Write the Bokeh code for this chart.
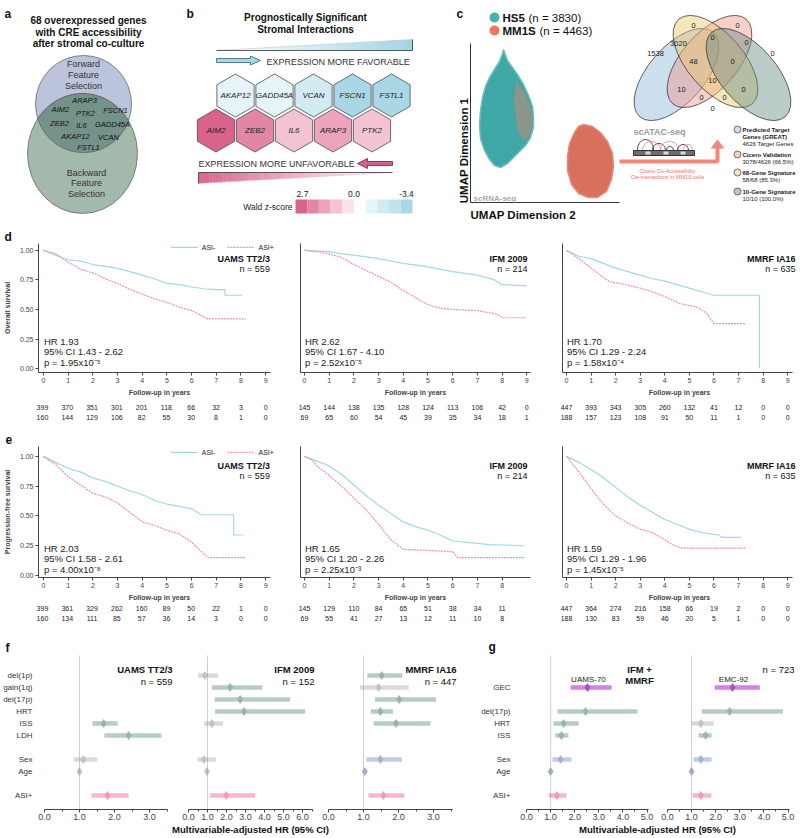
import numpy as np
from bokeh.plotting import figure
from bokeh.models import (Range1d, Label, LabelSet, ColumnDataSource, FixedTicker, Span,
                          NumeralTickFormatter)
from bokeh.layouts import row, column
from bokeh.embed import file_html
from bokeh.resources import INLINE
from bokeh.core.properties import value
from bokeh.transform import linear_cmap

FONT = "Liberation Sans"

# ----------------------------- data -----------------------------
# panel a
venn_title = ["68 overexpressed genes", "with CRE accessibility", "after stromal co-culture"]
venn_genes = ["ARAP3", "AIM2", "PTK2", "FSCN1", "ZEB2", "IL6", "GADD45A", "AKAP12", "VCAN", "FSTL1"]
# panel b
fav_genes = ["AKAP12", "GADD45A", "VCAN", "FSCN1", "FSTL1"]
fav_z = [-1.2, -1.2, -1.8, -2.9, -3.4]
unfav_genes = ["AIM2", "ZEB2", "IL6", "ARAP3", "PTK2"]
unfav_z = [2.7, 2.0, 0.7, 1.3, 0.7]
z_low, z_high = -3.4, 2.7
z_palette = ["#a9d7e5", "#bfe2ed", "#d2eaf2", "#e6f3f8", "#ffffff",
             "#fae1ea", "#f3c3d3", "#eba4bc", "#e385a4", "#d9638d"]
# panel c
umap_groups = ["HS5", "MM1S"]
umap_n = [3830, 4463]
venn4_counts = [1538, 0, 0, 3020, 0, 0, 0, 48, 0, 10, 10, 0, 0, 0, 0]
venn4_sets = ["Predicted Target|Genes (GREAT)", "Cicero Validation", "68-Gene Signature", "10-Gene Signature"]
venn4_sub = ["4626 Target Genes", "3078/4626 (66.5%)", "58/68 (85.3%)", "10/10 (100.0%)"]

# panel d (overall survival) Kaplan-Meier curves
os_uams_neg_t = [0, 0.5, 1, 1.5, 2, 2.5, 3, 3.5, 4, 4.5, 5, 5.5, 6, 6.5, 7, 7.35, 7.35, 8.05]
os_uams_neg_s = [1, 0.96, 0.92, 0.91, 0.88, 0.865, 0.847, 0.82, 0.79, 0.76, 0.72, 0.71, 0.69, 0.675, 0.667, 0.667, 0.62, 0.62]
os_uams_pos_t = [0, 0.5, 1, 1.5, 2, 2.5, 3, 3.5, 4, 4.5, 5, 5.5, 6, 6.3, 6.65, 8.2]
os_uams_pos_s = [1, 0.97, 0.90, 0.84, 0.81, 0.76, 0.72, 0.67, 0.63, 0.59, 0.56, 0.52, 0.49, 0.46, 0.42, 0.42]
os_ifm_neg_t = [0, 1, 1.5, 2, 3, 4, 5, 6, 7, 7.7, 8, 9]
os_ifm_neg_s = [1, 0.99, 0.97, 0.96, 0.93, 0.89, 0.86, 0.82, 0.79, 0.75, 0.71, 0.70]
os_ifm_pos_t = [0, 0.5, 1, 1.5, 2, 2.5, 3, 3.5, 4, 4.5, 5, 5.5, 6, 7, 7.8, 8, 9]
os_ifm_pos_s = [1, 0.99, 0.97, 0.94, 0.88, 0.83, 0.78, 0.73, 0.66, 0.60, 0.54, 0.51, 0.50, 0.49, 0.46, 0.43, 0.43]
os_mmrf_neg_t = [0, 0.5, 1, 1.5, 2, 2.5, 3, 3.5, 4, 4.5, 5, 5.5, 6, 7.85, 7.85]
os_mmrf_neg_s = [1, 0.95, 0.93, 0.89, 0.85, 0.82, 0.79, 0.76, 0.74, 0.71, 0.68, 0.65, 0.62, 0.62, 0.0]
os_mmrf_pos_t = [0, 0.5, 1, 1.5, 1.8, 2.2, 3, 3.5, 4, 4.6, 5.3, 5.7, 6.0, 7.3]
os_mmrf_pos_s = [1, 0.93, 0.85, 0.77, 0.73, 0.72, 0.68, 0.65, 0.61, 0.55, 0.52, 0.47, 0.38, 0.38]
# panel e (progression-free survival)
pfs_uams_neg_t = [0, 0.5, 1, 1.5, 2, 2.5, 3, 3.5, 4, 4.5, 5, 5.5, 6, 6.4, 7.7, 7.7, 8.1]
pfs_uams_neg_s = [1, 0.95, 0.90, 0.87, 0.82, 0.79, 0.75, 0.71, 0.68, 0.63, 0.60, 0.58, 0.56, 0.51, 0.51, 0.34, 0.34]
pfs_uams_pos_t = [0, 0.5, 1, 1.5, 2, 2.5, 3, 3.5, 4, 4.5, 5, 5.5, 6, 6.3, 6.5, 6.7, 8.2]
pfs_uams_pos_s = [1, 0.93, 0.83, 0.76, 0.69, 0.66, 0.61, 0.53, 0.45, 0.42, 0.38, 0.35, 0.28, 0.22, 0.18, 0.15, 0.15]
pfs_ifm_neg_t = [0, 0.5, 1, 1.5, 2, 2.5, 3, 3.5, 4, 4.5, 5, 5.5, 6, 7.5, 8.9]
pfs_ifm_neg_s = [1, 0.96, 0.92, 0.85, 0.76, 0.67, 0.59, 0.52, 0.45, 0.41, 0.38, 0.34, 0.29, 0.26, 0.25]
pfs_ifm_pos_t = [0, 0.3, 0.5, 1, 1.5, 2, 2.5, 3, 3.5, 4, 5, 6, 6.2, 8.9]
pfs_ifm_pos_s = [1, 0.97, 0.92, 0.84, 0.75, 0.65, 0.55, 0.43, 0.30, 0.22, 0.21, 0.20, 0.15, 0.15]
pfs_mmrf_neg_t = [0, 0.5, 1, 1.5, 2, 2.5, 3, 3.5, 4, 4.5, 5, 5.5, 6.2, 6.3, 7.1]
pfs_mmrf_neg_s = [1, 0.95, 0.89, 0.82, 0.74, 0.66, 0.59, 0.53, 0.47, 0.43, 0.39, 0.36, 0.34, 0.32, 0.32]
pfs_mmrf_pos_t = [0, 0.5, 1, 1.5, 2, 2.5, 3, 3.5, 4, 4.3, 4.7, 7.3]
pfs_mmrf_pos_s = [1, 0.87, 0.73, 0.60, 0.50, 0.44, 0.39, 0.36, 0.30, 0.26, 0.23, 0.23]

# numbers at risk
risk_os_uams = ([399, 370, 351, 301, 201, 118, 66, 32, 3, 0], [160, 144, 129, 106, 82, 55, 30, 8, 1, 0])
risk_os_ifm = ([145, 144, 138, 135, 128, 124, 113, 106, 42, 0], [69, 65, 60, 54, 45, 39, 35, 34, 18, 1])
risk_os_mmrf = ([447, 393, 343, 305, 260, 132, 41, 12, 0, 0], [188, 157, 123, 108, 91, 50, 11, 1, 0, 0])
risk_pfs_uams = ([399, 361, 329, 262, 160, 89, 50, 22, 1, 0], [160, 134, 111, 85, 57, 36, 14, 3, 0, 0])
risk_pfs_ifm = ([145, 129, 110, 84, 65, 51, 38, 34, 11], [69, 55, 41, 27, 13, 12, 11, 10, 8])
risk_pfs_mmrf = ([447, 364, 274, 216, 158, 66, 19, 2, 0, 0], [188, 130, 83, 59, 46, 20, 5, 1, 0, 0])

cohorts = ["UAMS TT2/3", "IFM 2009", "MMRF IA16"]
cohort_n = [559, 214, 635]
os_stats = [("1.93", "1.43 - 2.62", "1.95x10\u207b\u2075"), ("2.62", "1.67 - 4.10", "2.52x10\u207b\u2075"),
            ("1.70", "1.29 - 2.24", "1.58x10\u207b\u2074")]
pfs_stats = [("2.03", "1.58 - 2.61", "4.00x10\u207b\u2078"), ("1.65", "1.20 - 2.26", "2.25x10\u207b\u00b3"),
             ("1.59", "1.29 - 1.96", "1.45x10\u207b\u2075")]

# panel f (multivariable HR, 95% CI)
f_rows = ["del(1p)", "gain(1q)", "del(17p)", "HRT", "ISS", "LDH", "Sex", "Age", "ASI+"]
f_uams_var = ["ISS", "LDH", "Sex", "Age", "ASI+"]
f_uams_hr = [1.69, 2.40, 1.11, 1.00, 1.80]
f_uams_lo = [1.37, 1.71, 0.83, 0.98, 1.34]
f_uams_hi = [2.09, 3.34, 1.51, 1.02, 2.40]
f_uams_kind = ["sig", "sig", "ns", "ns", "asi"]
f_ifm_var = ["del(1p)", "gain(1q)", "del(17p)", "HRT", "ISS", "Sex", "Age", "ASI+"]
f_ifm_hr = [0.86, 2.19, 2.72, 2.93, 1.23, 0.81, 0.97, 1.98]
f_ifm_lo = [0.50, 1.23, 1.38, 1.40, 0.82, 0.47, 0.95, 1.14]
f_ifm_hi = [1.56, 3.89, 5.35, 6.14, 1.82, 1.44, 1.00, 3.50]
f_ifm_kind = ["ns", "sig", "sig", "sig", "ns", "ns", "ns", "asi"]
f_mmrf_var = ["del(1p)", "gain(1q)", "del(17p)", "HRT", "ISS", "Sex", "Age", "ASI+"]
f_mmrf_hr = [1.52, 1.43, 2.02, 1.48, 1.93, 1.48, 1.04, 1.57]
f_mmrf_lo = [1.11, 0.90, 1.33, 1.21, 1.29, 1.08, 1.02, 1.14]
f_mmrf_hi = [2.11, 2.29, 3.07, 1.84, 2.91, 2.10, 1.06, 2.17]
f_mmrf_kind = ["sig", "ns", "sig", "sig", "sig", "cov", "cov", "asi"]
f_n = [559, 152, 447]
# panel g
g_rows = ["GEC", "del(17p)", "HRT", "ISS", "Sex", "Age", "ASI+"]
g_uams70_hr = [2.53, 2.45, 1.54, 1.45, 1.41, 1.00, 1.26]
g_uams70_lo = [1.83, 1.29, 1.12, 1.20, 1.08, 0.98, 0.92]
g_uams70_hi = [3.53, 4.60, 2.16, 1.74, 1.87, 1.02, 1.66]
g_uams70_kind = ["gec", "sig", "sig", "sig", "cov", "cov", "asi"]
g_emc92_hr = [2.70, 2.58, 1.38, 1.58, 1.38, 1.00, 1.38]
g_emc92_lo = [1.96, 1.42, 1.00, 1.29, 1.08, 0.98, 1.04]
g_emc92_hi = [3.83, 4.79, 1.92, 1.83, 1.83, 1.02, 1.82]
g_emc92_kind = ["gec", "sig", "ns", "sig", "cov", "cov", "asi"]
g_n = 723
hr_axis_label = "Multivariable-adjusted HR (95% CI)"

# ----------------------------- styles -----------------------------
C_NEG = "#9fd9e6"
C_POS = "#f08fb0"
BAR = {"sig": "#b7ccc2", "ns": "#dadada", "cov": "#c2cde0", "asi": "#f5b9cf", "gec": "#cf86e0"}
DOT = {"sig": "#97b4a7", "ns": "#c2c2c2", "cov": "#a2b3cc", "asi": "#ee9aba", "gec": "#a650c6"}
W = 798


def lab(p, x, y, text, size=9, style="normal", color="#222222", align="left",
        baseline="middle", angle=0.0):
    p.add_layout(Label(x=x, y=y, text=text, text_font=FONT, text_font_size=f"{size}px",
                       text_font_style=style, text_color=color, text_align=align,
                       text_baseline=baseline, angle=angle))


def mix(c1, c2, t):
    return "#%02x%02x%02x" % tuple(int(round(a + (b - a) * t)) for a, b in zip(c1, c2))


def blank(width, height, xr, yr):
    p = figure(width=width, height=height, x_range=Range1d(*xr), y_range=Range1d(*yr),
               x_axis_type=None, y_axis_type=None, output_backend="svg",
               toolbar_location=None, min_border=0)
    p.outline_line_color = None
    return p


# ----------------------------- top row (a, b, c) -----------------------------
top = blank(W, 243, (0, W), (243, 0))

# ---- a
lab(top, 4, 13, "a", 12, "bold", "#111")
for i, s in enumerate(venn_title):
    lab(top, 88, 20 + 11.7 * i, s, 10, "bold", "#111", "center")
c1 = (83.0, 103.5, 48.0, 48.5)
c2 = (82.0, 153.0, 55.0, 60.0)
top.ellipse(x=[c1[0]], y=[c1[1]], width=[2 * c1[2]], height=[2 * c1[3]],
            fill_color="#bcc4dc", line_color="#6a6a6a", line_width=0.8)
top.ellipse(x=[c2[0]], y=[c2[1]], width=[2 * c2[2]], height=[2 * c2[3]],
            fill_color="#a3b9ab", line_color="#6a6a6a", line_width=0.8)
th = np.linspace(0, 2 * np.pi, 721)
p1 = np.c_[c1[0] + c1[2] * np.cos(th), c1[1] + c1[3] * np.sin(th)]
p2 = np.c_[c2[0] + c2[2] * np.cos(th), c2[1] + c2[3] * np.sin(th)]
in2 = ((p1[:, 0] - c2[0]) / c2[2]) ** 2 + ((p1[:, 1] - c2[1]) / c2[3]) ** 2 <= 1
in1 = ((p2[:, 0] - c1[0]) / c1[2]) ** 2 + ((p2[:, 1] - c1[1]) / c1[3]) ** 2 <= 1
lens = np.r_[p1[in2], p2[in1]]
ang = np.arctan2(lens[:, 1] - lens[:, 1].mean(), lens[:, 0] - lens[:, 0].mean())
lens = lens[np.argsort(ang)]
top.patch(lens[:, 0], lens[:, 1], fill_color="#75928a", line_color="#5a5a5a", line_width=0.8)
for i, s in enumerate(["Forward", "Feature", "Selection"]):
    lab(top, 83, 63 + 11 * i, s, 9, color="#333", align="center")
for i, s in enumerate(["Backward", "Feature", "Selection"]):
    lab(top, 86, 172 + 10.5 * i, s, 9, color="#333", align="center")
gene_px = [84, 60, 85, 115, 59, 81, 112, 75, 108, 88]
gene_py = [100, 109, 113, 110, 123, 125, 124, 136, 137, 147]
for g, gx, gy in zip(venn_genes, gene_px, gene_py):
    lab(top, gx, gy, g, 7.5, "italic", "#111", "center")

# ---- b
lab(top, 186, 13, "b", 12, "bold", "#111")
lab(top, 305, 17, "Prognostically Significant", 10, "bold", "#111", "center")
lab(top, 305, 29, "Stromal Interactions", 10, "bold", "#111", "center")
nstr = 70
xs = np.linspace(216, 412, nstr + 1)
xc = (xs[:-1] + xs[1:]) / 2
fr = (xc - 216) / 196
top.quad(left=xs[:-1], right=xs[1:] + 0.3, top=50 - 11 * fr, bottom=np.full(nstr, 50.0),
         fill_color=[mix((255, 255, 255), (163, 212, 227), t) for t in fr], line_color=None)
top.line([216, 412], [50, 39], line_color="#b8c8cf", line_width=0.6)
top.line([216, 412, 412], [50, 50, 39], line_color="#333", line_width=0.8)
top.patch([216, 250, 250, 260, 250, 250, 216], [58, 58, 55.5, 60, 64.5, 62, 62],
          fill_color="#a8d6e6", line_color="#2f5f77", line_width=0.8)
lab(top, 266, 61, "EXPRESSION MORE FAVORABLE", 9, color="#333")
hx_top = 235 + 39 * np.arange(5)
hx_bot = 215.5 + 39 * np.arange(5)
hsrc = ColumnDataSource(dict(x=list(hx_top) + list(hx_bot), y=[95] * 5 + [130] * 5,
                             z=fav_z + unfav_z, g=fav_genes + unfav_genes))
top.scatter(x="x", y="y", source=hsrc, marker="hex", size=43, angle=np.pi / 2,
            fill_color=linear_cmap("z", z_palette, low=z_low, high=z_high),
            line_color="#4a4a4a", line_width=0.8)
for gx, gy, g in zip(hsrc.data["x"], hsrc.data["y"], hsrc.data["g"]):
    lab(top, gx, gy, g, 8, "italic", "#222", "center")
lab(top, 198, 163, "EXPRESSION MORE UNFAVORABLE", 9, color="#333")
top.patch([392, 367, 367, 357, 367, 367, 392], [161, 161, 158, 163, 168, 165, 165],
          fill_color="#d45e8c", line_color="#6e2244", line_width=0.8)
xs2 = np.linspace(198, 392, nstr + 1)
xc2 = (xs2[:-1] + xs2[1:]) / 2
fr2 = (xc2 - 198) / 194
top.quad(left=xs2[:-1], right=xs2[1:] + 0.3, top=np.full(nstr, 172.0), bottom=183 - 11 * fr2,
         fill_color=[mix((216, 100, 142), (255, 255, 255), t) for t in fr2], line_color=None)
top.line([198, 392], [183, 172], line_color="#e9c3d1", line_width=0.6)
top.line([198, 198, 392], [183, 172, 172], line_color="#333", line_width=0.8)
ncb = len(z_palette)
cb_w = (412 - 295) / ncb
top.rect(x=295 + cb_w * (np.arange(ncb) + 0.5), y=206, width=cb_w, height=14,
         fill_color=z_palette[::-1], line_color=None)
lab(top, 302, 193, f"{z_high:.1f}", 8.5, color="#222", align="center")
lab(top, 353.5, 193, "0.0", 8.5, color="#222", align="center")
lab(top, 406, 193, f"{z_low:.1f}", 8.5, color="#222", align="center")
lab(top, 292, 206, "Wald z-score", 8.5, color="#222", align="right")

# ---- c
lab(top, 456, 13, "c", 12, "bold", "#111")
top.scatter(x=[494, 494], y=[17, 30], size=10, fill_color=["#45b1b0", "#ec7563"], line_color=None)
lab(top, 502, 17, umap_groups[0], 11.5, "bold", "#111")
lab(top, 528, 17, f"(n = {umap_n[0]})", 11.5, color="#111")
lab(top, 502, 30, umap_groups[1], 11.5, "bold", "#111")
lab(top, 539, 30, f"(n = {umap_n[1]})", 11.5, color="#111")
teal_x = [503, 507, 512, 517, 523, 528, 532, 533, 533, 530, 525, 519, 513, 507, 500, 494,
          489, 484, 480, 479, 480, 482, 485, 489, 494, 499, 502]
teal_y = [49, 60, 67, 74, 84, 95, 106, 116, 127, 137, 145, 151, 157, 163, 167, 165,
          159, 150, 138, 125, 110, 97, 86, 77, 69, 61, 53]
red_x = [583, 592, 600, 607, 612, 613, 611, 606, 597, 588, 578, 571, 567, 567, 569, 574, 578]
red_y = [124, 126, 132, 141, 153, 166, 179, 191, 197, 197, 193, 184, 170, 156, 143, 132, 126]
speck_x = [516, 524, 530, 532, 530, 524, 517, 513]
speck_y = [80, 92, 106, 120, 134, 141, 130, 100]
top.patch(teal_x, teal_y, fill_color="#3fa7a5", line_color="#6cc0bf", line_width=1.5)
top.patch(speck_x, speck_y, fill_color="#e6806e", fill_alpha=0.45, line_color=None)
top.patch(red_x, red_y, fill_color="#d9705e", line_color="#ec8a78", line_width=1.5)
top.line([470, 470, 619], [43, 202, 202], line_color="#333", line_width=1)
lab(top, 463, 150, "UMAP Dimension 1", 11.5, "bold", "#111", "center", angle=np.pi / 2)
lab(top, 470, 214, "UMAP Dimension 2", 11.5, "bold", "#111")
lab(top, 473, 198, "scRNA-seq", 8, "bold", "#aaaaaa")
top.line([619, 717, 717], [161, 161, 147], line_color="#f4877b", line_width=4)
top.patch([710, 724, 717], [148, 148, 139], fill_color="#f4877b", line_color=None)
lab(top, 659, 131, "scATAC-seq", 9, "bold", "#9a9a9a", "center")
arc_x0 = [637, 642, 652, 660, 666, 677, 683]
arc_x1 = [653, 660, 665, 678, 673, 688, 692]
arc_h = [11, 9, 7, 9, 4, 6, 6]
arc_c = ["#222", "#f07d72", "#222", "#f07d72", "#222", "#222", "#f07d72"]
top.bezier(x0=arc_x0, y0=[150] * 7, x1=arc_x1, y1=[150] * 7, cx0=arc_x0,
           cy0=[150 - 1.33 * h for h in arc_h], cx1=arc_x1, cy1=[150 - 1.33 * h for h in arc_h],
           line_color=arc_c, line_width=0.8)
top.quad(left=[633], right=[694], top=[150], bottom=[155], fill_color="#6e6e6e", line_color="#333")
top.quad(left=[645, 663, 680], right=[650, 668, 685], top=[151] * 3, bottom=[154] * 3,
         fill_color="#d9d9d9", line_color=None)
lab(top, 667, 170, "Cicero Co-Accessibility", 5.5, color="#f07060", align="center")
lab(top, 667, 176, "Cis-interactions in MM1S cells", 5.5, color="#f07060", align="center")
v4_fill = ["#8db7da", "#ef948a", "#e6c76d", "#688c82"]
top.ellipse(x=[676, 709, 715, 748], y=[74, 61, 61, 74], width=112, height=56,
            angle=[0.855, 0.855, -0.855, -0.855], fill_color=v4_fill, fill_alpha=0.45,
            line_color="#3a3a3a", line_width=0.8)
v4_lx = [655, 693, 737, 678, 712, 746, 772, 693, 732, 712, 681, 743, 701, 724, 712]
v4_ly = [53, 25, 25, 43, 37, 42, 53, 61, 61, 80, 89, 89, 97, 97, 108]
for cnt, vx, vy in zip(venn4_counts, v4_lx, v4_ly):
    lab(top, vx, vy, str(cnt), 7.5, color="#222", align="center")
leg_y = [129, 154, 172, 191]
top.scatter(x=[737] * 4, y=leg_y, size=7, fill_color=v4_fill, fill_alpha=0.45,
            line_color="#3a3a3a", line_width=0.7)
for s, sub, ly in zip(venn4_sets, venn4_sub, leg_y):
    parts = s.split("|")
    for j, ps in enumerate(parts):
        lab(top, 742, ly + 7 * j, ps, 6, "bold", "#222")
    lab(top, 742, ly + 7 * len(parts), sub, 6, color="#222")
lab(top, 4, 236, "d", 12, "bold", "#111")


# ----------------------------- KM panels -----------------------------
def km(kind, width, bl, br, x0, x1, bound, neg_t, neg_s, pos_t, pos_s, risk, cohort, n, stats,
       show_y, title_x, xticks, ylabel=None, legend=False):
    if kind == "d":
        height, bb = 155, 24
        y0, y1 = -0.0333, 1.058
        ty, hy, ly = (0.925, 0.842), (0.225, 0.142, 0.05), 1.025
        rtop, rbot, ry = 398, 446, (407, 417)
    else:
        height, bb = 157, 24
        y0, y1 = -0.0165, 1.083
        ty, hy, ly = (0.917, 0.835), (0.231, 0.14, 0.05), 1.033
        rtop, rbot, ry = 603, 655, (608, 618)
    p = figure(width=width, height=height, x_range=Range1d(x0, x1), y_range=Range1d(y0, y1),
               output_backend="svg", toolbar_location=None, min_border_left=bl,
               min_border_right=br, min_border_top=0, min_border_bottom=bb)
    p.grid.visible = False
    p.outline_line_color = None
    xa = p.xaxis[0]
    xa.bounds = (x0, bound)
    xa.ticker = FixedTicker(ticks=xticks)
    xa.axis_label = "Follow-up in years"
    xa.axis_label_text_font = FONT
    xa.axis_label_text_font_style = "bold"
    xa.axis_label_text_font_size = "7px"
    xa.axis_label_standoff = 3
    xa.major_label_text_font = FONT
    xa.major_label_text_font_size = "7px"
    xa.major_label_standoff = 2
    xa.major_tick_out = 3
    xa.major_tick_in = 0
    xa.minor_tick_line_color = None
    xa.axis_line_color = "#444"
    xa.major_tick_line_color = "#444"
    ya = p.yaxis[0]
    ya.axis_line_color = "#444"
    ya.minor_tick_line_color = None
    if show_y:
        ya.ticker = FixedTicker(ticks=[0, 0.25, 0.5, 0.75, 1.0])
        ya.formatter = NumeralTickFormatter(format="0.00")
        ya.major_label_text_font = FONT
        ya.major_label_text_font_size = "7px"
        ya.major_label_standoff = 2
        ya.major_tick_out = 3
        ya.major_tick_in = 0
        ya.major_tick_line_color = "#444"
        ya.axis_label = ylabel
        ya.axis_label_text_font = FONT
        ya.axis_label_text_font_style = "bold"
        ya.axis_label_text_font_size = "7px"
        ya.axis_label_standoff = 6
    else:
        ya.ticker = FixedTicker(ticks=[])
        ya.major_tick_line_color = None
        ya.major_label_standoff = 0
        ya.major_label_text_font_size = "0px"
    p.line(neg_t, neg_s, line_color=C_NEG, line_width=1.2)
    p.line(pos_t, pos_s, line_color=C_POS, line_width=1.2, line_dash="2 1")
    lab(p, title_x, ty[0], cohort, 9, "bold", "#111", "right")
    lab(p, title_x, ty[1], f"n = {n}", 9, color="#111", align="right")
    hr, ci, pv = stats
    lab(p, 0.02, hy[0], f"HR {hr}", 9.5, color="#222")
    lab(p, 0.02, hy[1], f"95% CI {ci}", 9.5, color="#222")
    lab(p, 0.02, hy[2], f"p = {pv}", 9.5, color="#222")
    if legend:
        p.segment(x0=[5.16], y0=[ly], x1=[6.25], y1=[ly], line_color=C_NEG, line_width=1.2)
        lab(p, 6.41, ly, "ASI-", 7, color="#222")
        p.segment(x0=[7.46], y0=[ly], x1=[8.51], y1=[ly], line_color=C_POS, line_width=1.2,
                  line_dash="2 1")
        lab(p, 8.71, ly, "ASI+", 7, color="#222")
    # numbers-at-risk strip, same horizontal scale as the plot above
    scale = (width - bl - br) / (x1 - x0)
    r = figure(width=width, height=rbot - rtop,
               x_range=Range1d(x0 - bl / scale, x1 + br / scale), y_range=Range1d(rbot, rtop),
               x_axis_type=None, y_axis_type=None, output_backend="svg",
               toolbar_location=None, min_border=0)
    r.outline_line_color = None
    for vals, yy in zip(risk, ry):
        src = ColumnDataSource(dict(x=list(range(len(vals))), y=[yy] * len(vals),
                                    t=[str(v) for v in vals]))
        r.add_layout(LabelSet(x="x", y="y", text="t", source=src, text_font=value(FONT),
                              text_font_size="7px", text_color="#222", text_align="center",
                              text_baseline="middle"))
    return p, r, scale


T10 = list(range(10))
# column geometry (page px): d1/e1 0-292, d2/e2 292-552, d3/e3 552-798
d1, rd1, sd1 = km("d", 292, 37, 12, -0.2, 9.6, 9.19, os_uams_neg_t, os_uams_neg_s, os_uams_pos_t,
                  os_uams_pos_s, risk_os_uams, cohorts[0], cohort_n[0], os_stats[0], True, 9.17,
                  T10, "Overall survival", True)
d2, rd2, sd2 = km("d", 260, 8, 22, -0.162, 9.15, 9.15, os_ifm_neg_t, os_ifm_neg_s, os_ifm_pos_t,
                  os_ifm_pos_s, risk_os_ifm, cohorts[1], cohort_n[1], os_stats[1], False, 9.03, T10)
d3, rd3, sd3 = km("d", 246, 10, 2, -0.163, 9.36, 9.2, os_mmrf_neg_t, os_mmrf_neg_s, os_mmrf_pos_t,
                  os_mmrf_pos_s, risk_os_mmrf, cohorts[2], cohort_n[2], os_stats[2], False, 9.32, T10)
e1, re1, se1 = km("e", 292, 37, 12, -0.2, 9.6, 9.19, pfs_uams_neg_t, pfs_uams_neg_s, pfs_uams_pos_t,
                  pfs_uams_pos_s, risk_pfs_uams, cohorts[0], cohort_n[0], pfs_stats[0], True, 9.17,
                  T10, "Progression-free survival", True)
e2, re2, se2 = km("e", 260, 8, 22, -0.162, 9.15, 9.15, pfs_ifm_neg_t, pfs_ifm_neg_s, pfs_ifm_pos_t,
                  pfs_ifm_pos_s, risk_pfs_ifm, cohorts[1], cohort_n[1], pfs_stats[1], False, 9.03,
                  list(range(9)))
e3, re3, se3 = km("e", 246, 10, 2, -0.163, 9.36, 9.2, pfs_mmrf_neg_t, pfs_mmrf_neg_s, pfs_mmrf_pos_t,
                  pfs_mmrf_pos_s, risk_pfs_mmrf, cohorts[2], cohort_n[2], pfs_stats[2], False, 9.32, T10)
# panel letters living in the numbers-at-risk strips (page px converted to data)
lab(rd1, (5 - 42) / sd1, 439, "e", 12, "bold", "#111")
lab(re1, (5 - 42) / se1, 647, "f", 12, "bold", "#111")
lab(re2, (488 - 304) / se2, 646, "g", 12, "bold", "#111")

# ----------------------------- forest panels -----------------------------
F_SLOT = {"del(1p)": 0, "gain(1q)": 1, "del(17p)": 2, "HRT": 3, "ISS": 4, "LDH": 5,
          "Sex": 7, "Age": 8, "ASI+": 10}
G_SLOT = {"GEC": 1, "del(17p)": 3, "HRT": 4, "ISS": 5, "Sex": 7, "Age": 8, "ASI+": 10}


def forest(width, bl, br, xend, bound, var, hr, lo, hi, kinds, ticks, minor, slot, ylabels=None):
    p = figure(width=width, height=167, x_range=Range1d(0, xend), y_range=Range1d(11.17, -1.67),
               output_backend="svg", toolbar_location=None, min_border_left=bl,
               min_border_right=br, min_border_top=0, min_border_bottom=13)
    p.grid.visible = False
    p.outline_line_color = None
    p.add_layout(Span(location=1, dimension="height", line_color="#9c9c9c", line_width=1,
                      line_dash="1 1"))
    src = ColumnDataSource(dict(y=[slot[v] for v in var], hr=hr, lo=lo, hi=hi,
                                bar=[BAR[k] for k in kinds], dot=[DOT[k] for k in kinds]))
    p.hbar(y="y", left="lo", right="hi", height=0.38, fill_color="bar", line_color=None, source=src)
    p.scatter(x="hr", y="y", marker="diamond", size=9, fill_color="dot", line_color=None, source=src)
    xa = p.xaxis[0]
    xa.bounds = (0, bound)
    xa.ticker = FixedTicker(ticks=ticks, minor_ticks=minor)
    xa.formatter = NumeralTickFormatter(format="0.0")
    xa.major_label_text_font = FONT
    xa.major_label_text_font_size = "9px"
    xa.major_label_standoff = 1
    xa.major_tick_out = 3
    xa.major_tick_in = 0
    xa.minor_tick_out = 2
    xa.minor_tick_in = 0
    xa.axis_line_color = "#444"
    xa.major_tick_line_color = "#444"
    xa.minor_tick_line_color = "#444"
    if ylabels:
        ya = p.yaxis[0]
        ya.ticker = FixedTicker(ticks=[slot[v] for v in ylabels])
        ya.major_label_overrides = {slot[v]: v for v in ylabels}
        ya.axis_line_color = None
        ya.major_tick_line_color = None
        ya.minor_tick_line_color = None
        ya.major_label_text_font = FONT
        ya.major_label_text_font_size = "8px"
        ya.major_label_text_color = "#333"
        ya.major_label_standoff = 6 if bl < 50 else 10
    else:
        p.yaxis.visible = False
    return p


# column geometry (page px): f1 0-180, f2 180-320, f3 320-470, g1 470-655, g2 655-798
f1 = forest(180, 44, 0, 136 / 35, 3.5, f_uams_var, f_uams_hr, f_uams_lo, f_uams_hi, f_uams_kind,
            [0, 1, 2, 3], [0.5, 1.5, 2.5, 3.5], F_SLOT, f_rows)
f2 = forest(140, 8, 0, 132 / 19, 6.5, f_ifm_var, f_ifm_hr, f_ifm_lo, f_ifm_hi, f_ifm_kind,
            [0, 1, 2, 3, 4, 5, 6], [0.5, 1.5, 2.5, 3.5, 4.5, 5.5, 6.5], F_SLOT)
f3 = forest(150, 8, 0, 142 / 35, 3.55, f_mmrf_var, f_mmrf_hr, f_mmrf_lo, f_mmrf_hi, f_mmrf_kind,
            [0, 1, 2, 3], [0.5, 1.5, 2.5, 3.5], F_SLOT)
g1 = forest(185, 56, 0, 129 / 24.1, 5.05, g_rows, g_uams70_hr, g_uams70_lo, g_uams70_hi,
            g_uams70_kind, [0, 1, 2, 3, 4, 5], [0.5, 1.5, 2.5, 3.5, 4.5], G_SLOT, g_rows)
g2 = forest(143, 12, 0, 131 / 24.1, 5.05, g_rows, g_emc92_hr, g_emc92_lo, g_emc92_hi,
            g_emc92_kind, [0, 1, 2, 3, 4, 5], [0.5, 1.5, 2.5, 3.5, 4.5], G_SLOT)

for p_, xr, name, nn in [(f1, 3.66, cohorts[0], f_n[0]), (f2, 6.63, cohorts[1], f_n[1]),
                         (f3, 3.66, cohorts[2], f_n[2])]:
    lab(p_, xr, -0.5, name, 9.5, "bold", "#111", "right")
    lab(p_, xr, 0.5, f"n = {nn}", 9.5, color="#111", align="right")
lab(g1, 4.69, -0.5, "IFM +", 9.5, "bold", "#111", "center")
lab(g1, 4.69, 0.4, "MMRF", 9.5, "bold", "#111", "center")
lab(g1, 2.57, 0.3, "UAMS-70", 8, color="#222", align="center")
lab(g2, 2.74, 0.3, "EMC-92", 8, color="#222", align="center")
lab(g2, 5.27, -0.5, f"n = {g_n}", 9.5, color="#111", align="right")

# shared x-axis titles under the forest panels
foot_f = blank(470, 14, (0, 470), (836, 822))
foot_g = blank(328, 14, (470, 798), (836, 822))
lab(foot_f, 250, 828.5, hr_axis_label, 9.5, "bold", "#111", "center")
lab(foot_g, 657, 828.5, hr_axis_label, 9.5, "bold", "#111", "center")

layout = column(top, row(d1, d2, d3), row(rd1, rd2, rd3), row(e1, e2, e3), row(re1, re2, re3),
                row(f1, f2, f3, g1, g2), row(foot_f, foot_g))
open("out.html", "w").write(file_html(layout, INLINE))
